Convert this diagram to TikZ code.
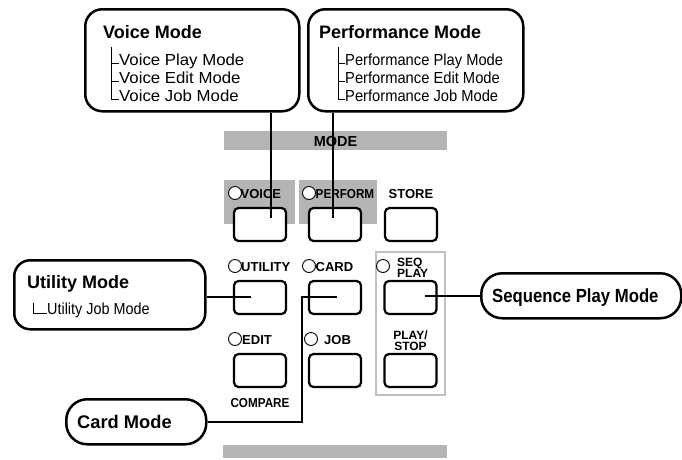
\documentclass[tikz,border=0pt]{standalone}
\usepackage{fontspec}
\usepackage{graphicx}
\setmainfont{Liberation Sans}
\definecolor{panelgray}{HTML}{B4B4B4}
\definecolor{framegray}{HTML}{C0C0C0}
\begin{document}
\begin{tikzpicture}[x=1pt,y=-1pt,
  callout/.style={draw, line width=2.5pt, fill=white, anchor=north west, inner sep=0},
  title/.style={anchor=base west, inner sep=0, font=\bfseries\fontsize{18}{20}\selectfont},
  item/.style={anchor=base west, inner sep=0, font=\fontsize{16}{19}\selectfont},
  lbl/.style={anchor=base west, inner sep=0, font=\bfseries\fontsize{13}{14}\selectfont},
  lblc/.style={anchor=base, inner sep=0, font=\bfseries\fontsize{13}{14}\selectfont},
  small/.style={anchor=base west, inner sep=0, font=\bfseries\fontsize{12}{12}\selectfont},
  smallc/.style={anchor=base, inner sep=0, font=\bfseries\fontsize{12}{12}\selectfont},
  led/.style={circle, draw, line width=0.9pt, fill=white, minimum size=13pt, inner sep=0},
  btn/.style={draw, line width=2.2pt, rounded corners=4.5pt, fill=white, minimum width=52pt, minimum height=33pt, inner sep=0},
  link/.style={line width=2pt},
  tree/.style={line width=1pt}]
\useasboundingbox (0,0) rectangle (682,459);
\fill[white] (0,0) rectangle (682,459);

% gray panel parts
\fill[panelgray] (224,131) rectangle (447,150);
\fill[panelgray] (223,445) rectangle (447,458);
\fill[panelgray] (224,180) rectangle (295,224);
\fill[panelgray] (299,180) rectangle (377,224);
\draw[framegray, line width=2.2pt] (376,252) rectangle (445,395);
\node[anchor=base, inner sep=0, font=\bfseries\fontsize{14.5}{16}\selectfont] (modelbl) at (335.5,146) {MODE};

% buttons
\node[btn] (bvoice) at (260,224.5) {};
\node[btn] (bperf) at (335,224.5) {};
\node[btn] (bstore) at (411,224.5) {};
\node[btn] (butil) at (260,297.5) {};
\node[btn] (bcard) at (335,297.5) {};
\node[btn] (bseq) at (410.5,297.5) {};
\node[btn] (bedit) at (260,370.5) {};
\node[btn] (bjob) at (335,370.5) {};
\node[btn] (bplay) at (410.5,370.5) {};

% LEDs and labels
\node[led] (lvoice) at (235,193) {};
\node[lbl] (tvoice) at (240.5,198) {VOICE};
\node[led] (lperf) at (309,193) {};
\node[lbl] (tperf) at (315.5,198) {\scalebox{0.9}[1]{PERFORM}};
\node[lblc] (tstore) at (411,198) {STORE};
\node[led] (lutil) at (235,266) {};
\node[lbl] (tutil) at (241,271) {UTILITY};
\node[led] (lcard) at (309,266) {};
\node[lbl] (tcard) at (315.5,271) {CARD};
\node[led] (lseq) at (383,266) {};
\node[small] (tseq1) at (397,266) {SEQ};
\node[small] (tseq2) at (397,277) {PLAY};
\node[led] (ledit) at (235,339) {};
\node[lbl] (tedit) at (242,344) {EDIT};
\node[led] (ljob) at (311,339) {};
\node[lbl] (tjob) at (324,344) {JOB};
\node[smallc] (tplay1) at (410.5,339) {PLAY/};
\node[smallc] (tplay2) at (410.5,350) {STOP};
\node[lblc] (tcomp) at (260,407) {\scalebox{0.9}[1]{COMPARE}};

% callout boxes
\node[callout, rounded corners=17pt, minimum width=214pt, minimum height=102pt] (voicebox) at (84,8) {};
\node[title] (voicet) at (103,38.3) {Voice Mode};
\node[item] (voice1) at (119,65) {\scalebox{1.05}[1]{Voice Play Mode}};
\node[item] (voice2) at (119,83.3) {\scalebox{1.05}[1]{Voice Edit Mode}};
\node[item] (voice3) at (119,101) {\scalebox{1.05}[1]{Voice Job Mode}};
\draw[tree] (111,47) -- (111,99.3) -- (voice3.base west |- 0,99.3);
\draw[tree] (111,63.3) -- (voice1.base west |- 0,63.3);
\draw[tree] (111,81.7) -- (voice2.base west |- 0,81.7);

\node[callout, rounded corners=17pt, minimum width=215pt, minimum height=102pt] (perfbox) at (307,8) {};
\node[title] (perft) at (319,38.3) {Performance Mode};
\node[item] (perf1) at (345,65) {\scalebox{0.92}[1]{Performance Play Mode}};
\node[item] (perf2) at (345,83.3) {\scalebox{0.92}[1]{Performance Edit Mode}};
\node[item] (perf3) at (345,101) {\scalebox{0.92}[1]{Performance Job Mode}};
\draw[tree] (338,47) -- (338,99.3) -- (perf3.base west |- 0,99.3);
\draw[tree] (338,63.3) -- (perf1.base west |- 0,63.3);
\draw[tree] (338,81.7) -- (perf2.base west |- 0,81.7);

\node[callout, rounded corners=16pt, minimum width=191pt, minimum height=69pt] (utilbox) at (13,259) {};
\node[title] (utilt) at (27,288) {Utility Mode};
\node[item] (util1) at (47,314.5) {\scalebox{0.9}[1]{Utility Job Mode}};
\draw[tree] (33,303) -- (33,313) -- (util1.base west |- 0,313);

\node[callout, rounded corners=21pt, minimum width=140pt, minimum height=45pt] (cardbox) at (65,398) {};
\node[title, font=\bfseries\fontsize{18.3}{20}\selectfont] (cardt) at (77,428.5) {Card Mode};

\node[callout, rounded corners=21pt, minimum width=200pt, minimum height=45pt] (seqbox) at (480,272) {};
\node[title, font=\bfseries\fontsize{19}{20}\selectfont] (seqt) at (492,302) {\scalebox{0.88}[1]{Sequence Play Mode}};

% connectors
\coordinate (evoice) at (271,218);
\coordinate (eperf) at (333,218);
\coordinate (eutil) at (251,297);
\coordinate (ecard) at (337,297);
\coordinate (ecardc) at (302,297);
\coordinate (eseq) at (425,296);
\draw[link] (evoice |- voicebox.south) -- (evoice);
\draw[link] (eperf |- perfbox.south) -- (eperf);
\draw[link] (utilbox.east |- eutil) -- (eutil);
\draw[link] (ecard) -- (ecardc) -- (ecardc |- cardbox.east) -- (cardbox.east);
\draw[link] (eseq) -- (seqbox.west |- eseq);
\end{tikzpicture}
\end{document}
